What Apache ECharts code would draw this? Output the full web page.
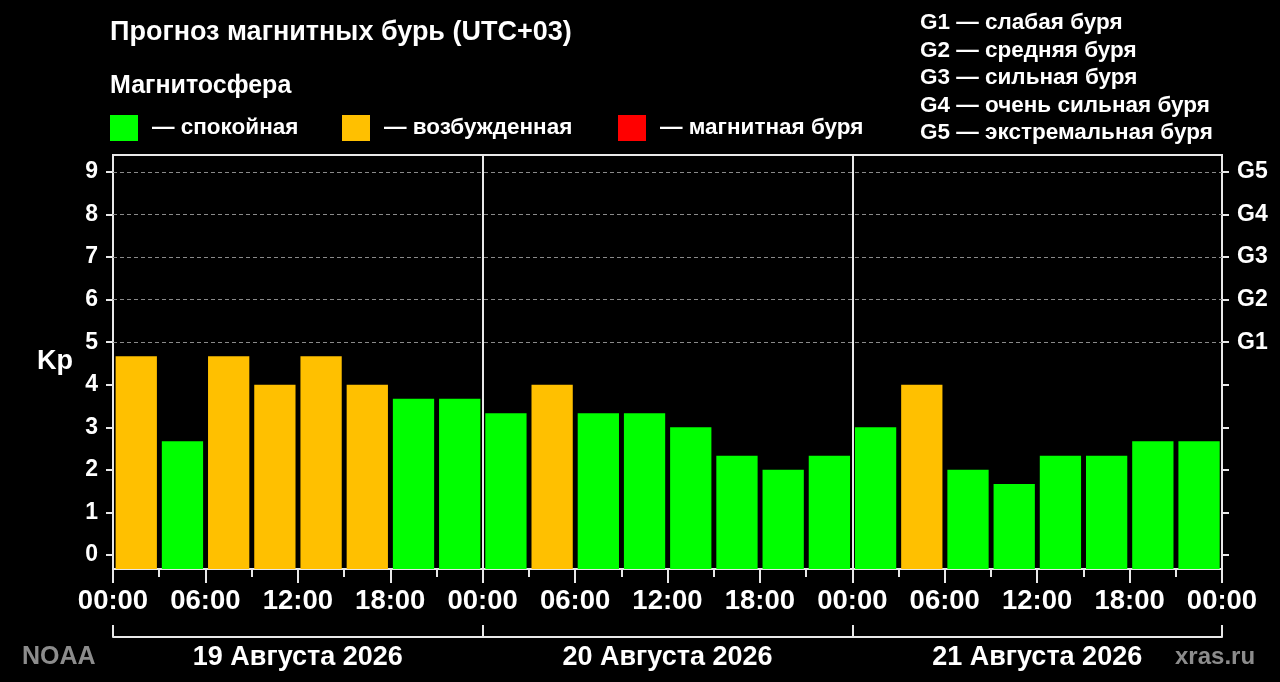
<!DOCTYPE html>
<html><head><meta charset="utf-8">
<script src="https://cdn.jsdelivr.net/npm/echarts@6/dist/echarts.min.js"></script>
<style>html,body{margin:0;padding:0;background:#000}#c{width:1280px;height:682px}</style>
</head><body><div id="c"></div>
<script>
const titleText = 'Прогноз магнитных бурь (UTC+03)';
const subtitleText = 'Магнитосфера';
const stateLabels = ['— спокойная', '— возбужденная', '— магнитная буря'];
const stateColors = ['#00ff00', '#ffc000', '#ff0000'];
const gLegend = ['G1 — слабая буря', 'G2 — средняя буря', 'G3 — сильная буря', 'G4 — очень сильная буря', 'G5 — экстремальная буря'];
const dayLabels = ['19 Августа 2026', '20 Августа 2026', '21 Августа 2026'];
const hourLabels = ['00:00', '06:00', '12:00', '18:00'];
const kpTicks = [0, 1, 2, 3, 4, 5, 6, 7, 8, 9];
const gLevels = [5, 6, 7, 8, 9];
const gLabels = ['G1', 'G2', 'G3', 'G4', 'G5'];
const slotHours = [0, 3, 6, 9, 12, 15, 18, 21, 24, 27, 30, 33, 36, 39, 42, 45, 48, 51, 54, 57, 60, 63, 66, 69];
const kpValues = [4.67, 2.67, 4.67, 4.00, 4.67, 4.00, 3.67, 3.67,
                  3.33, 4.00, 3.33, 3.33, 3.00, 2.33, 2.00, 2.33,
                  3.00, 4.00, 2.00, 1.67, 2.33, 2.33, 2.67, 2.67];
const sourceLeft = 'NOAA';
const sourceRight = 'xras.ru';

const FONT = "'Liberation Sans', Arial, sans-serif";
function colorFor(kp) { return kp >= 5 ? stateColors[2] : (kp >= 4 ? stateColors[1] : stateColors[0]); }

const chart = echarts.init(document.getElementById('c'), null, { renderer: 'canvas' });

const graphics = [];
graphics.push({ type: 'text', style: { x: 110, y: 33, text: titleText, fill: '#fff', font: 'bold 27px ' + FONT, verticalAlign: 'middle' } });
graphics.push({ type: 'text', style: { x: 110, y: 86, text: subtitleText, fill: '#fff', font: 'bold 25px ' + FONT, verticalAlign: 'middle' } });
const legendX = [110, 342, 618];
stateLabels.forEach((t, i) => {
  graphics.push({ type: 'rect', shape: { x: legendX[i], y: 115, width: 28, height: 26 }, style: { fill: stateColors[i] } });
  graphics.push({ type: 'text', style: { x: legendX[i] + 42, y: 128, text: t, fill: '#fff', font: 'bold 22.5px ' + FONT, verticalAlign: 'middle' } });
});
gLegend.forEach((t, i) => {
  graphics.push({ type: 'text', style: { x: 920, y: 23 + i * 27.5, text: t, fill: '#fff', font: 'bold 22.5px ' + FONT, verticalAlign: 'middle' } });
});
graphics.push({ type: 'text', style: { x: 22, y: 657, text: sourceLeft, fill: '#8c8c8c', font: 'bold 25px ' + FONT, verticalAlign: 'middle' } });
graphics.push({ type: 'text', style: { x: 1175, y: 657, text: sourceRight, fill: '#8c8c8c', font: 'bold 24px ' + FONT, verticalAlign: 'middle' } });

const yMin = -0.33, yMax = 9.4;

chart.setOption({
  backgroundColor: '#000',
  animation: false,
  graphic: graphics,
  grid: { left: 113, right: 58, top: 155, height: 414, show: true, borderColor: '#e8e8e8', borderWidth: 2, backgroundColor: 'transparent' },
  xAxis: [
    {
      type: 'value', min: 0, max: 72, interval: 6, position: 'bottom',
      axisLine: { show: true, onZero: false, lineStyle: { color: '#e8e8e8', width: 2 } },
      axisTick: { show: true, length: 14, lineStyle: { color: '#e8e8e8', width: 2 } },
      minorTick: { show: true, splitNumber: 2, length: 8, lineStyle: { color: '#e8e8e8', width: 2 } },
      splitLine: { show: false },
      axisLabel: { color: '#fff', fontFamily: FONT, fontWeight: 'bold', fontSize: 27.5, margin: 18,
        formatter: v => hourLabels[Math.round(v / 6) % 4] }
    },
    {
      type: 'category', data: dayLabels, position: 'bottom', offset: 68, boundaryGap: true,
      axisLine: { show: true, onZero: false, lineStyle: { color: '#e8e8e8', width: 2 } },
      axisTick: { show: true, inside: true, length: 12, alignWithLabel: false, interval: 0, lineStyle: { color: '#e8e8e8', width: 2 } },
      splitLine: { show: true, interval: 0, lineStyle: { color: '#e8e8e8', width: 2 } },
      axisLabel: { color: '#fff', fontFamily: FONT, fontWeight: 'bold', fontSize: 27, margin: 7, interval: 0 }
    }
  ],
  yAxis: [
    {
      type: 'value', min: yMin, max: yMax, position: 'left',
      name: 'Kp', nameLocation: 'middle', nameRotate: 0, nameGap: 40,
      nameTextStyle: { color: '#fff', fontFamily: FONT, fontWeight: 'bold', fontSize: 27 },
      axisLine: { show: true, onZero: false, lineStyle: { color: '#e8e8e8', width: 2 } },
      axisTick: { show: true, length: 7, customValues: kpTicks, lineStyle: { color: '#e8e8e8', width: 2 } },
      splitLine: { show: false },
      axisLabel: { color: '#fff', fontFamily: FONT, fontWeight: 'bold', fontSize: 23, margin: 15, customValues: kpTicks,
        formatter: v => String(Math.round(v)) }
    },
    {
      type: 'value', min: yMin, max: yMax, position: 'right',
      axisLine: { show: true, onZero: false, lineStyle: { color: '#e8e8e8', width: 2 } },
      axisTick: { show: true, length: 7, customValues: kpTicks, lineStyle: { color: '#e8e8e8', width: 2 } },
      splitLine: { show: false },
      axisLabel: { color: '#fff', fontFamily: FONT, fontWeight: 'bold', fontSize: 23, margin: 15, customValues: gLevels,
        formatter: v => { const i = gLevels.indexOf(Math.round(v)); return i >= 0 ? gLabels[i] : ''; } }
    }
  ],
  series: [
    {
      type: 'custom', xAxisIndex: 0, yAxisIndex: 0,
      data: slotHours.map((h, i) => [h, kpValues[i]]),
      encode: { x: 0, y: 1 },
      renderItem: (params, api) => {
        const h = api.value(0), kp = api.value(1);
        const cs = params.coordSys;
        const tl = api.coord([h + 0.17, kp]);
        const tr = api.coord([h + 3 - 0.15, kp]);
        const bottom = cs.y + cs.height;
        return { type: 'rect', shape: { x: tl[0], y: tl[1], width: tr[0] - tl[0], height: bottom - tl[1] }, style: { fill: colorFor(kp) } };
      },
      markLine: {
        silent: true, symbol: 'none', label: { show: false },
        lineStyle: { color: '#8a8a8a', width: 1, type: [4, 3] },
        data: gLevels.map(v => ({ yAxis: v }))
      },
      z: 3
    }
  ]
});
</script></body></html>
